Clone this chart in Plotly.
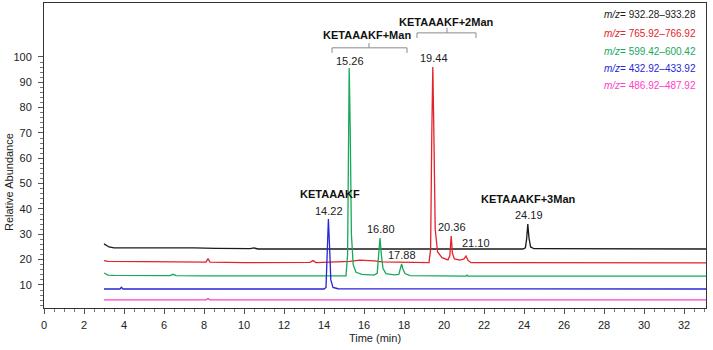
import plotly.graph_objects as go

# ---------------- data ----------------
black_t = [3.0, 3.25, 3.5, 5.0, 6.0, 7.5, 8.6, 10.3, 10.5, 10.7, 12.0, 23.95, 24.07, 24.13, 24.19, 24.25, 24.33, 24.5, 33.2]
black_y = [26.2, 25.0, 24.6, 24.7, 24.5, 24.6, 24.4, 24.3, 24.6, 24.2, 24.2, 24.2, 24.7, 28.0, 34.0, 28.5, 25.0, 24.3, 24.2]

red_t = [3.0, 3.2, 5.0, 7.0, 8.1, 8.2, 8.3, 10.0, 12.0, 13.3, 13.45, 13.6, 15.3, 15.8, 16.5, 16.9,
         19.25, 19.33, 19.39, 19.44, 19.49, 19.56, 19.68, 19.9, 20.2, 20.29, 20.36, 20.42, 20.52, 20.8,
         21.0, 21.1, 21.2, 21.35, 33.2]
red_y = [19.6, 19.3, 19.2, 19.1, 19.0, 20.4, 19.0, 18.8, 18.8, 18.9, 19.6, 18.8, 19.3, 19.8, 19.5, 19.1,
         18.8, 24.0, 70.0, 96.0, 72.0, 32.0, 23.0, 20.8, 19.9, 21.5, 29.3, 22.5, 20.3, 19.8,
         20.3, 21.4, 19.7, 18.8, 18.7]

green_t = [3.0, 3.2, 3.5, 6.3, 6.45, 6.6, 8.0, 10.5, 15.1, 15.18, 15.22, 15.26, 15.31, 15.37, 15.46, 15.6,
           15.9, 16.5, 16.66, 16.74, 16.80, 16.86, 16.95, 17.1, 17.5, 17.74, 17.82, 17.88, 17.95, 18.05,
           18.3, 21.1, 21.15, 21.2, 33.2]
green_y = [14.7, 13.9, 13.8, 13.7, 14.2, 13.7, 13.6, 13.5, 13.6, 22.0, 75.0, 95.6, 72.0, 30.0, 18.0, 15.0,
           14.2, 13.9, 14.6, 22.0, 28.5, 22.5, 16.5, 14.5, 14.0, 14.2, 16.2, 18.3, 16.2, 14.5,
           13.7, 13.5, 13.9, 13.5, 13.5]

blue_t = [3.0, 3.8, 3.87, 3.95, 6.0, 10.0, 14.0, 14.1, 14.16, 14.22, 14.28, 14.34, 14.45, 14.7, 33.2]
blue_y = [8.4, 8.4, 9.1, 8.4, 8.4, 8.4, 8.4, 9.0, 25.0, 36.0, 25.0, 12.0, 9.0, 8.5, 8.4]

pink_t = [3.0, 5.0, 5.3, 5.6, 8.1, 8.2, 8.3, 12.0, 33.2]
pink_y = [4.1, 4.1, 4.3, 4.1, 4.1, 4.6, 4.1, 4.1, 4.1]

series_names = ["932.28–933.28", "765.92–766.92", "599.42–600.42", "432.92–433.92", "486.92–487.92"]
series_colors = ["#1a1a1a", "#e3232a", "#17a85a", "#2626d4", "#ff40c8"]
series_t = [black_t, red_t, green_t, blue_t, pink_t]
series_y = [black_y, red_y, green_y, blue_y, pink_y]

peak_labels = ["14.22", "15.26", "19.44", "16.80", "17.88", "20.36", "21.10", "24.19"]
peak_label_x = [14.25, 15.3, 19.5, 16.85, 17.9, 20.4, 21.6, 24.25]
peak_label_y = [39.2, 98.4, 99.6, 32.1, 21.8, 32.9, 26.6, 37.6]

compound_labels = ["KETAAAKF", "KETAAAKF+Man", "KETAAAKF+2Man", "KETAAAKF+3Man"]
compound_x = [14.3, 16.15, 20.1, 24.2]
compound_y = [45.9, 108.7, 113.8, 43.9]

x_ticks = list(range(0, 33, 2))
y_ticks = list(range(10, 101, 10))

# ---------------- figure ----------------
fig = go.Figure()
for t, y, c, n in zip(series_t, series_y, series_colors, series_names):
    fig.add_trace(go.Scatter(x=t, y=y, mode="lines", line=dict(color=c, width=1.3),
                             name=n, showlegend=False, hoverinfo="skip"))

FONT = "Liberation Sans, Arial, sans-serif"

ann = []
for txt, x, y in zip(peak_labels, peak_label_x, peak_label_y):
    ann.append(dict(x=x, y=y, xref="x", yref="y", text=txt, showarrow=False,
                    font=dict(family=FONT, size=11, color="#222"), xanchor="center", yanchor="middle"))
for txt, x, y in zip(compound_labels, compound_x, compound_y):
    ann.append(dict(x=x, y=y, xref="x", yref="y", text="<b>%s</b>" % txt, showarrow=False,
                    font=dict(family=FONT, size=11, color="#111"), xanchor="center", yanchor="middle"))

# legend-like text block (top right)
leg_y_px = [15, 33, 51, 68, 86]
for n, c, py in zip(series_names, series_colors, leg_y_px):
    ann.append(dict(x=1.0 - 8 / 662, y=(308 - py) / 305, xref="paper", yref="paper",
                    text="<i>m/z</i>= %s" % n, showarrow=False,
                    font=dict(family=FONT, size=10, color=c), xanchor="right", yanchor="middle"))

# y-axis title
ann.append(dict(x=(9 - 44) / 662, y=(308 - 182) / 305, xref="paper", yref="paper",
                text="Relative Abundance", textangle=-90, showarrow=False,
                font=dict(family=FONT, size=11, color="#222"), xanchor="center", yanchor="middle"))

shapes = []
bracket_color = "#8a8a8a"
for (x0, x1, yh, ye, xm, ym) in [(14.4, 18.15, 103.6, 101.6, 16.25, 105.5),
                                  (18.65, 21.6, 109.5, 107.5, 20.15, 111.5)]:
    shapes.append(dict(type="path", xref="x", yref="y",
                       path="M %f %f L %f %f L %f %f L %f %f" % (x0, ye, x0, yh, x1, yh, x1, ye),
                       line=dict(color=bracket_color, width=1)))
    shapes.append(dict(type="line", xref="x", yref="y", x0=xm, x1=xm, y0=yh, y1=ym,
                       line=dict(color=bracket_color, width=1)))

fig.update_layout(
    width=713, height=350,
    margin=dict(l=44, r=7, t=3, b=42),
    paper_bgcolor="white", plot_bgcolor="white",
    annotations=ann, shapes=shapes,
    font=dict(family=FONT, size=11, color="#222"),
)
fig.update_xaxes(
    range=[0, 33.1], tickvals=x_ticks, ticks="outside", ticklen=5, tickcolor="#555",
    showline=True, linecolor="#333", linewidth=1, mirror=True, showgrid=False, zeroline=False,
    minor=dict(dtick=0.5, tick0=0, ticks="outside", ticklen=3, tickcolor="#777"),
    tickfont=dict(family=FONT, size=11, color="#222"),
    title=dict(text="Time (min)", font=dict(family=FONT, size=11, color="#222"), standoff=4),
    ticklabelstandoff=2,
)
fig.update_yaxes(
    range=[0.9, 121.3], tickvals=y_ticks, ticks="outside", ticklen=5, tickcolor="#555",
    showline=True, linecolor="#333", linewidth=1, mirror=True, showgrid=False, zeroline=False,
    minor=dict(tickmode="array", tickvals=[v for v in range(2, 101, 2) if v % 10], ticks="outside",
               ticklen=3, tickcolor="#777"),
    tickfont=dict(family=FONT, size=11, color="#222"),
    ticklabelstandoff=4,
)

fig.write_html("out.html", config={"displayModeBar": False},
               post_script="document.body.style.margin='0';document.body.style.overflow='hidden';")
